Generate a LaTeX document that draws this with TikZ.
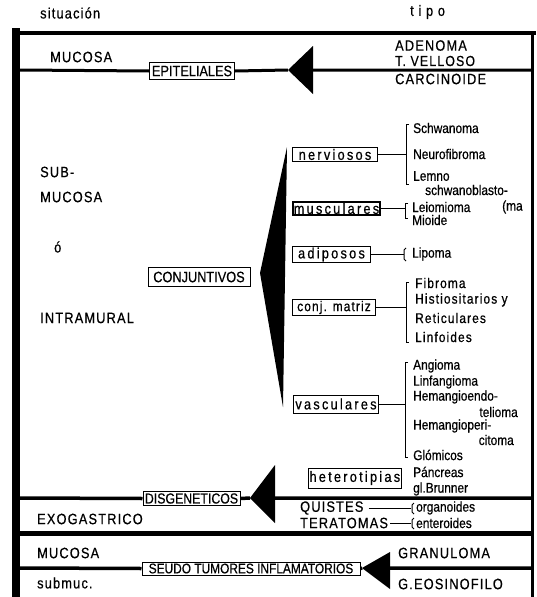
\documentclass[tikz,border=0pt]{standalone}
\usepackage{fontspec}
\setmainfont[FakeStretch=0.85, FakeBold=0.6]{Liberation Sans}
\newfontfamily\spaced[LetterSpace=8, FakeStretch=0.85, FakeBold=0.6]{Liberation Sans}
\newfontfamily\wide[LetterSpace=15, FakeStretch=0.85, FakeBold=0.6]{Liberation Sans}

% small square bracket opening to the right
\newcommand\brkt[3]{\draw[line width=1pt] (#1+3,#2) -- (#1,#2) -- (#1,#3) -- (#1+3,#3);}

\begin{document}
\begin{tikzpicture}[x=1pt, y=-1pt,
  txt/.style={anchor=west, inner sep=0pt, font=\spaced\fontsize{15}{17}\selectfont},
  sm/.style={anchor=west, inner sep=0pt, font=\fontsize{14}{16}\selectfont},
  lbl/.style={draw, line width=1pt, fill=white, inner sep=0.5pt, font=\fontsize{15}{17}\selectfont},
  sub/.style={draw, line width=1pt, fill=white, inner sep=1pt, anchor=west, font=\wide\fontsize{15}{17}\selectfont},
  rule/.style={line width=3.5pt}]
  \useasboundingbox (0,0) rectangle (537,597);

  % Frame of the table
  \fill (12,28) rectangle (20,597);
  \draw[line width=3pt] (532,31) -- (532,597);
  \draw[rule] (12,33) -- (536,33);

  % Headings
  \node[txt] (sit) at (40,13) {situación};
  \node[txt] (tipo) at (410,12) {t i p o};

  % Epiteliales
  \node[txt] (mucA) at (50,57) {MUCOSA};
  \node[txt] (aden) at (395,45.5) {ADENOMA};
  \node[txt, font=\spaced\fontsize{14.5}{16}\selectfont] (vell) at (395,61) {T. VELLOSO};
  \node[txt] (carc) at (395,79) {CARCINOIDE};
  \node[lbl, minimum width=85pt, minimum height=17pt] (epit) at (192,71) {EPITELIALES};
  \coordinate (l1) at (20,70);
  \coordinate (t1) at (288,70);
  \coordinate (b1) at (313,70);
  \coordinate (r1) at (532,70);
  \fill (t1) -- (313,46) -- (313,94) -- cycle;
  \draw[line width=3pt] (l1) -- (epit.west) (epit.east) -- (t1) (b1) -- (r1);

  % Conjuntivos
  \node[txt] (sub1) at (40,172) {SUB-};
  \node[txt] (sub2) at (40,197) {MUCOSA};
  \node[txt] (o) at (54,247) {ó};
  \node[txt] (intr) at (40,318) {INTRAMURAL};
  \node[lbl, minimum width=102pt, minimum height=19pt] (conj) at (199,277) {CONJUNTIVOS};
  \fill (260,273) -- (287,147) -- (283,407) -- cycle;

  \node[sub, minimum width=85pt] (nerv) at (292,154.5) {nerviosos};
  \node[sub, minimum width=81pt, line width=1.5pt] (musc) at (292,208.5) {musculares};
  \node[sub, minimum width=78pt] (adip) at (292,254.5) {adiposos};
  \node[sub, minimum width=83pt, font=\spaced\fontsize{14}{16}\selectfont] (cmat) at (292,307.5) {conj. matriz};
  \node[sub, minimum width=85pt, minimum height=18pt] (vasc) at (293,404) {vasculares};

  \coordinate (k1) at (406,154.5);
  \coordinate (k2) at (405,208.5);
  \coordinate (k3) at (404,254.5);
  \coordinate (k4) at (406,307.5);
  \coordinate (k5) at (405,404);
  \brkt{406}{124}{184}
  \brkt{405}{203}{218}
  \draw[line width=1pt] (406,248) -- (404,250) -- (404,259) -- (406,261);
  \brkt{406}{282}{342}
  \brkt{405}{362}{457}
  \draw[line width=1pt] (nerv) -- (k1) (musc) -- (k2) (adip) -- (k3) (cmat) -- (k4) (vasc) -- (k5);

  \node[sm] (n1) at (413,128) {Schwanoma};
  \node[sm] (n2) at (413,154) {Neurofibroma};
  \node[sm] (n3) at (413,176) {Lemno};
  \node[sm] (n4) at (425,190) {schwanoblasto-};
  \node[sm] (m1) at (412,207) {Leiomioma};
  \node[sm] (m2) at (502,207) {(ma};
  \node[sm] (m3) at (412,220) {Mioide};
  \node[sm] (a1) at (412,254) {Lipoma};
  \node[sm, font=\spaced\fontsize{14}{16}\selectfont] (c1) at (415,283) {Fibroma};
  \node[sm, font=\spaced\fontsize{14}{16}\selectfont] (c2) at (415,300) {Histiositarios y};
  \node[sm, font=\spaced\fontsize{14}{16}\selectfont] (c3) at (415,318) {Reticulares};
  \node[sm, font=\spaced\fontsize{14}{16}\selectfont] (c4) at (415,337) {Linfoides};
  \node[sm] (v1) at (413,366) {Angioma};
  \node[sm] (v2) at (413,382) {Linfangioma};
  \node[sm] (v3) at (413,397) {Hemangioendo-};
  \node[sm, anchor=east] (v4) at (518,412) {telioma};
  \node[sm] (v5) at (413,426) {Hemangioperi-};
  \node[sm, anchor=east] (v6) at (514,440) {citoma};
  \node[sm] (v7) at (413,455) {Glómicos};

  % Disgeneticos
  \node[sub, minimum width=89pt, minimum height=20pt] (het) at (308,478) {heterotipias};
  \node[sm] (h1) at (413,472) {Páncreas};
  \node[sm] (h2) at (413,489) {gl.Brunner};
  \node[lbl, minimum width=97pt, minimum height=14pt, inner sep=0pt, font=\fontsize{14.5}{16}\selectfont] (disg) at (191.5,498.5) {DISGENETICOS};
  \coordinate (l2) at (20,498);
  \coordinate (t2) at (250,498);
  \coordinate (b2) at (275,498);
  \coordinate (r2) at (532,498);
  \fill (t2) -- (275,465) -- (275,523) -- cycle;
  \draw[line width=3.5pt] (l2) -- (disg.west) (disg.east) -- (t2) (b2) -- (r2);

  \node[txt] (exo) at (37,519) {EXOGASTRICO};
  \node[txt] (quis) at (300,508) {QUISTES};
  \node[txt] (tera) at (300,523) {TERATOMAS};
  \node[sm] (orga) at (416,508) {organoides};
  \node[sm] (ente) at (416,523) {enteroides};
  \coordinate (q1) at (411,508);
  \coordinate (q2) at (411,523);
  \draw[line width=1pt] ([xshift=5pt]quis.east) -- (q1) ([xshift=2pt]tera.east) -- (q2);
  \draw[line width=1pt] (414,503) -- (412,505) -- (412,512) -- (414,514);
  \draw[line width=1pt] (414,518) -- (412,520) -- (412,527) -- (414,529);

  \draw[line width=5pt] (20,533) -- (532,533);

  % Seudo tumores
  \node[txt] (mucB) at (37,553) {MUCOSA};
  \node[txt] (subm) at (37,583) {submuc.};
  \node[txt] (gran) at (398,553) {GRANULOMA};
  \node[txt] (geos) at (398,584) {G.EOSINOFILO};
  \node[lbl, minimum width=218pt, minimum height=13pt, inner sep=0pt, font=\fontsize{14}{15}\selectfont] (seud) at (251,568.5) {SEUDO TUMORES INFLAMATORIOS};
  \coordinate (l3) at (20,568);
  \coordinate (t3) at (362,568);
  \coordinate (b3) at (390,568);
  \coordinate (r3) at (532,568);
  \fill (t3) -- (390,552) -- (390,589) -- cycle;
  \draw[line width=3.5pt] (l3) -- (seud.west) (seud.east) -- (t3) (b3) -- (r3);
\end{tikzpicture}
\end{document}
